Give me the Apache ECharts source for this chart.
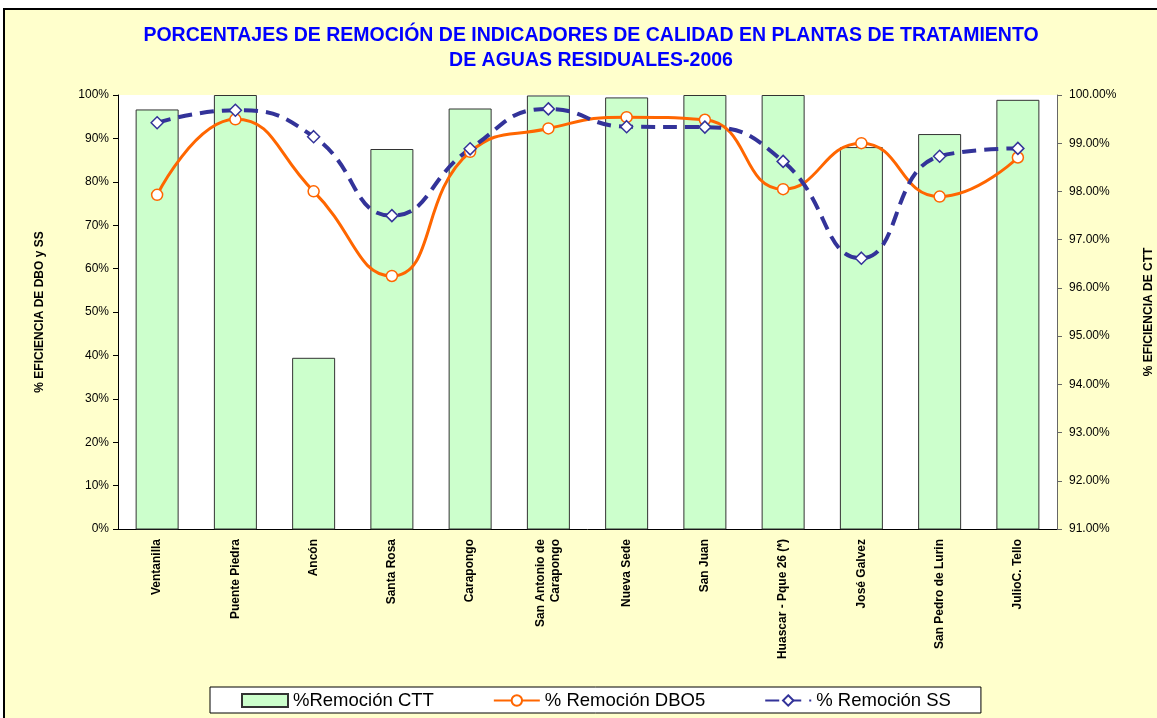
<!DOCTYPE html>
<html>
<head>
<meta charset="utf-8">
<title>Remoción PTAR 2006</title>
<script src="https://cdn.jsdelivr.net/npm/echarts@6/dist/echarts.min.js"></script>
<style>
  html, body { margin: 0; padding: 0; background: #fff; }
  #chart { width: 1157px; height: 718px; }
</style>
</head>
<body>
<div id="chart"></div>
<script>
/*datos*/
var plantas = ['Ventanilla', 'Puente Piedra', 'Ancón', 'Santa Rosa', 'Carapongo', 'San Antonio de\nCarapongo',
    'Nueva Sede', 'San Juan', 'Huascar - Pque 26 (*)', 'José Galvez', 'San Pedro de Lurin', 'JulioC. Tello'];
var remocionCTT = [99.70, 100.00, 94.55, 98.88, 99.72, 99.99, 99.95, 100.00, 100.00, 98.92, 99.19, 99.90];
var remocionDBO5 = [77.0, 94.4, 77.8, 58.3, 86.9, 92.3, 94.9, 94.3, 78.3, 88.9, 76.6, 85.6];
var remocionSS = [93.6, 96.5, 90.4, 72.2, 87.6, 96.8, 92.7, 92.6, 84.7, 62.4, 85.9, 87.7];

var chart = echarts.init(document.getElementById('chart'));
var fuente = 'Arial, "Liberation Sans", sans-serif';

var option = {
    backgroundColor: '#ffffff',
    animation: false,
    /*marco del area del grafico*/
    graphic: [{
        type: 'rect',
        z: -10,
        shape: { x: 4, y: 9, width: 1200, height: 800 },
        style: { fill: '#FFFFCC', stroke: '#000', lineWidth: 2 }
    }],
    title: {
        text: 'PORCENTAJES DE REMOCIÓN DE INDICADORES DE CALIDAD EN PLANTAS DE TRATAMIENTO\nDE AGUAS RESIDUALES-2006',
        left: 586,
        top: 18,
        textAlign: 'center',
        textStyle: {
            color: '#0000FF',
            fontFamily: fuente,
            fontWeight: 'bold',
            fontSize: 19.5,
            lineHeight: 25
        }
    },
    legend: {
        left: 210,
        top: 687,
        padding: [4, 30, 3, 31],
        backgroundColor: '#fff',
        borderColor: '#000',
        borderWidth: 1,
        borderRadius: 0,
        itemWidth: 46,
        itemHeight: 13,
        itemGap: 59,
        textStyle: { fontFamily: fuente, fontSize: 18.5, color: '#000' },
        data: [{ name: '%Remoción CTT', icon: 'rect' }, '% Remoción DBO5', '% Remoción SS']
    },
    grid: {
        left: 118,
        right: 100,
        top: 95,
        bottom: 189,
        outerBoundsMode: 'none',
        show: true,
        backgroundColor: '#fff',
        borderWidth: 0
    },
    xAxis: {
        type: 'category',
        data: plantas,
        axisLine: { lineStyle: { color: '#000' } },
        axisTick: { length: 5, lineStyle: { color: '#000' } },
        axisLabel: {
            rotate: 90,
            margin: 10,
            interval: 0,
            color: '#000',
            fontFamily: fuente,
            fontWeight: 'bold',
            fontSize: 12,
            lineHeight: 15
        }
    },
    yAxis: [{
        type: 'value',
        min: 0,
        max: 100,
        interval: 10,
        name: '% EFICIENCIA DE DBO y SS',
        nameLocation: 'middle',
        nameRotate: 90,
        nameGap: 72,
        nameTextStyle: { fontFamily: fuente, fontWeight: 'bold', fontSize: 12, color: '#000' },
        axisLine: { show: true, lineStyle: { color: '#000' } },
        axisTick: { show: true, length: 5, lineStyle: { color: '#000' } },
        splitLine: { show: false },
        axisLabel: { formatter: '{value}%', color: '#000', fontFamily: fuente, fontSize: 12, margin: 9 }
    }, {
        type: 'value',
        position: 'right',
        min: 91,
        max: 100,
        interval: 1,
        name: '% EFICIENCIA DE CTT',
        nameLocation: 'middle',
        nameRotate: 90,
        nameGap: 86,
        nameTextStyle: { fontFamily: fuente, fontWeight: 'bold', fontSize: 12, color: '#000' },
        axisLine: { show: true, lineStyle: { color: '#666' } },
        axisTick: { show: true, length: 5, lineStyle: { color: '#666' } },
        splitLine: { show: false },
        axisLabel: {
            formatter: function (v) { return v.toFixed(2) + '%'; },
            color: '#000', fontFamily: fuente, fontSize: 12, margin: 12
        }
    }],
    series: [{
        name: '%Remoción CTT',
        type: 'bar',
        yAxisIndex: 1,
        barWidth: 43,
        data: remocionCTT,
        itemStyle: { color: '#CCFFCC', borderColor: '#333', borderWidth: 1 }
    }, {
        name: '% Remoción DBO5',
        type: 'line',
        yAxisIndex: 0,
        smooth: 0.5,
        data: remocionDBO5,
        symbol: 'circle',
        symbolSize: 11,
        lineStyle: { color: '#FF6600', width: 3 },
        itemStyle: { color: '#fff', borderColor: '#FF6600', borderWidth: 1.5 }
    }, {
        name: '% Remoción SS',
        type: 'line',
        yAxisIndex: 0,
        smooth: 0.5,
        data: remocionSS,
        symbol: 'diamond',
        symbolSize: 12,
        lineStyle: { color: '#333399', width: 4, type: [14, 8] },
        itemStyle: { color: '#fff', borderColor: '#333399', borderWidth: 1.5 }
    }]
};
chart.setOption(option);
</script>
</body>
</html>
